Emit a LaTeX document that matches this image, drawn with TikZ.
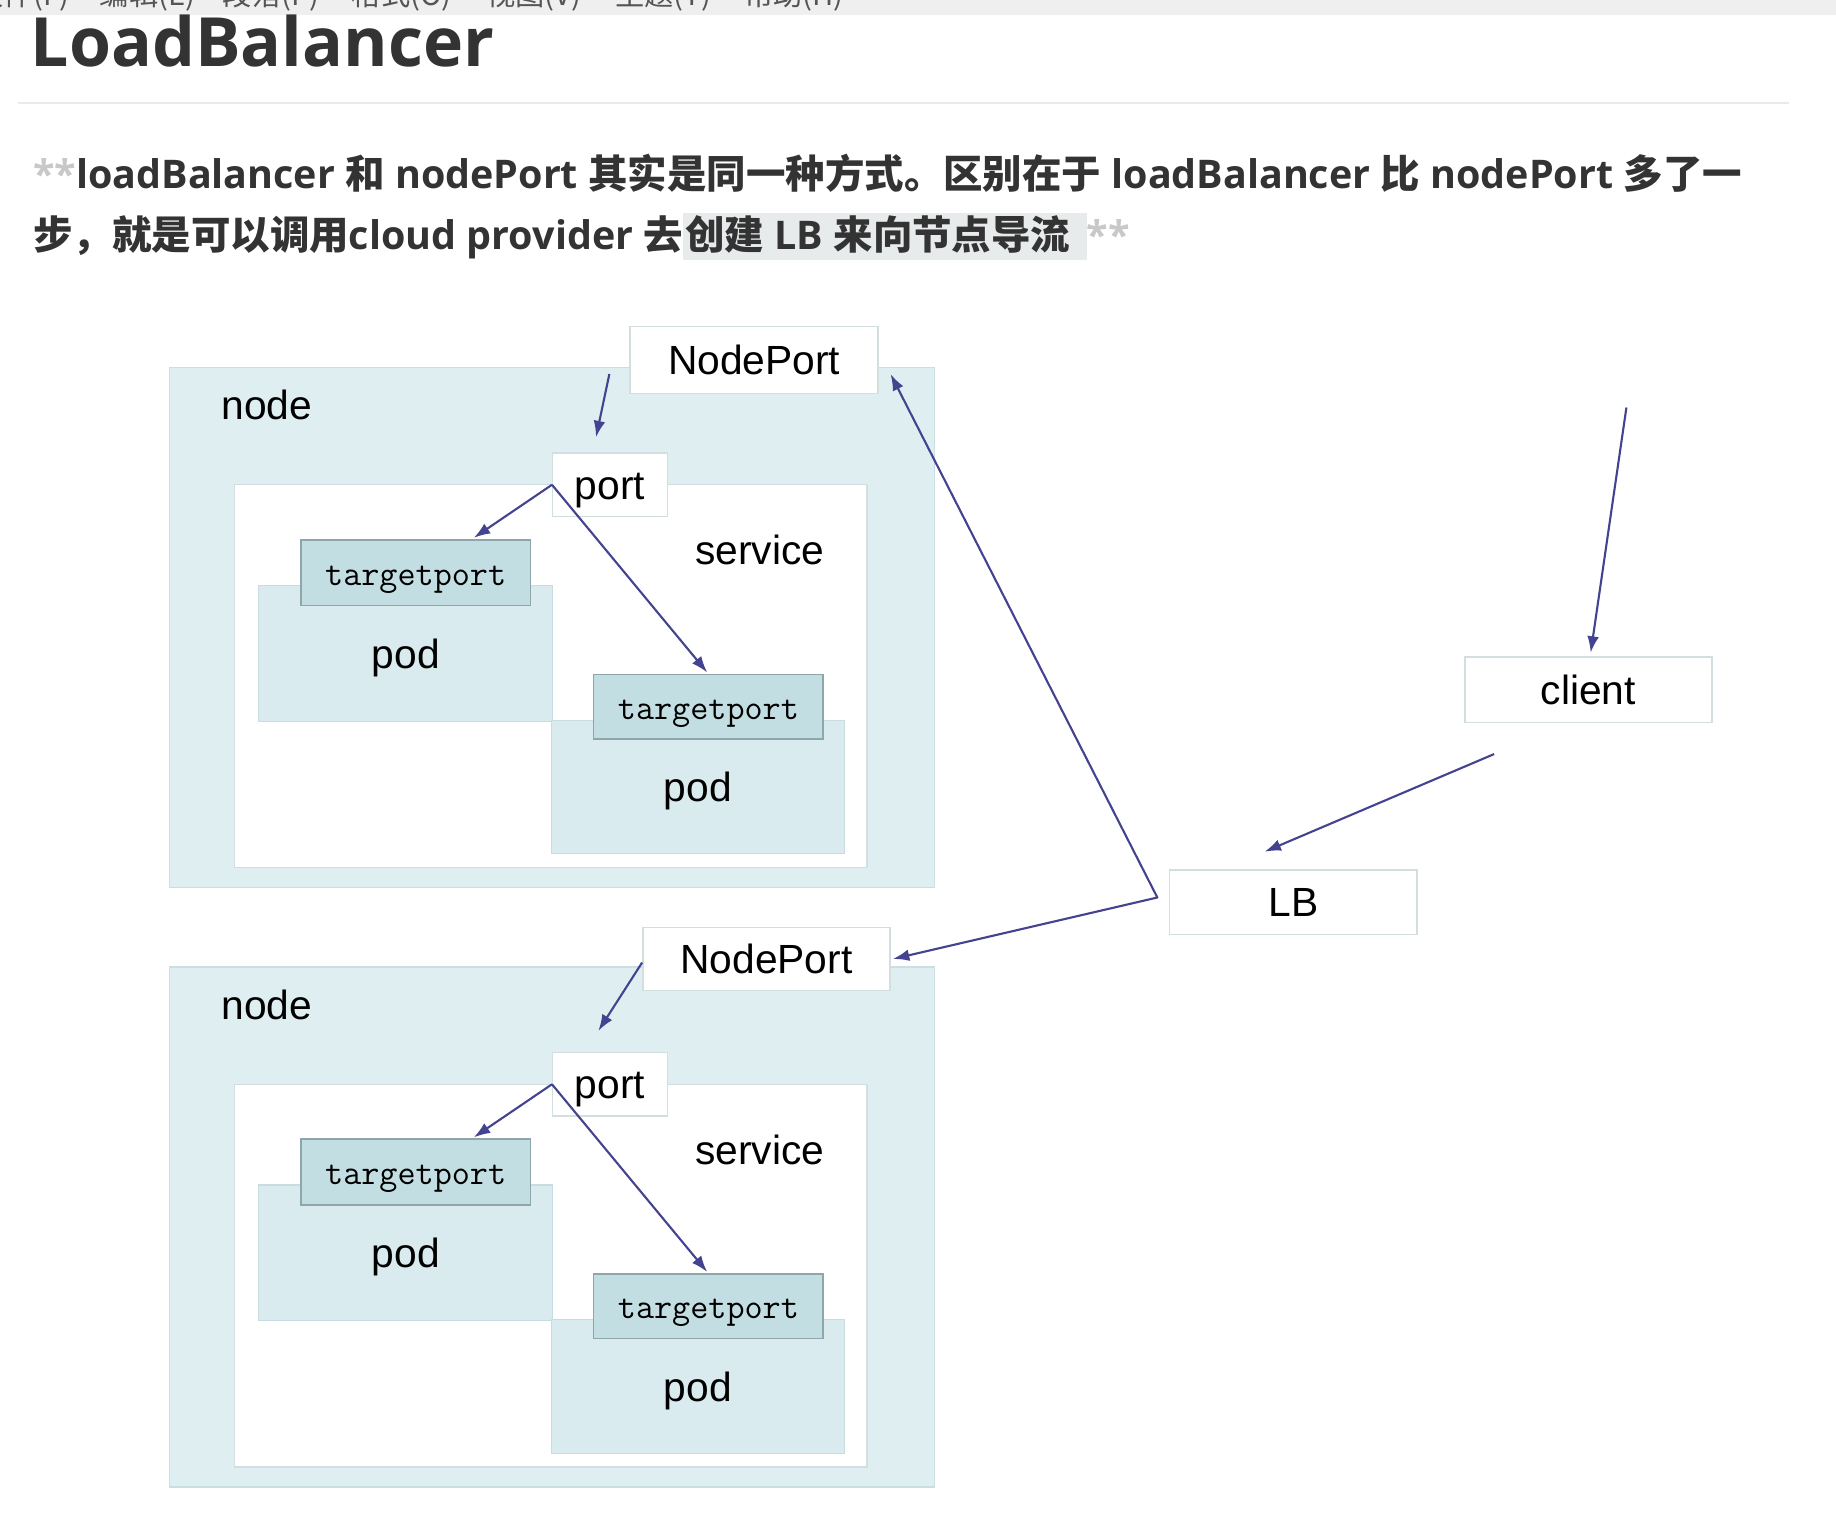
\documentclass[tikz,border=0pt]{standalone}
\usepackage{fontspec}
\setmainfont{Liberation Sans}
\newfontfamily\cjkfont{Noto Sans CJK SC}
\newfontfamily\osfont{Open Sans}
\usetikzlibrary{arrows.meta,calc}

\definecolor{nodefill}{HTML}{DEEEF1}
\definecolor{nodeline}{HTML}{CADFE3}
\definecolor{podfill}{HTML}{D9EBEE}
\definecolor{podline}{HTML}{C9DDE1}
\definecolor{tpfill}{HTML}{C3DEE2}
\definecolor{tpline}{HTML}{8CA6A9}
\definecolor{boxline}{HTML}{D3DEE0}
\definecolor{arrowc}{HTML}{43438F}
\definecolor{titlec}{HTML}{333333}
\definecolor{paratext}{HTML}{333333}
\definecolor{stars}{HTML}{C8C8C8}
\definecolor{hl}{HTML}{E8EBEC}
\definecolor{rulec}{HTML}{EAEAEA}
\definecolor{menubg}{HTML}{EFEFEF}
\definecolor{menutext}{HTML}{555555}

\newcommand{\zh}[1]{{\cjkfont\bfseries #1}}
\newcommand{\hlbox}[1]{{\setlength{\fboxsep}{0pt}\colorbox{hl}{\rule[-4.5pt]{0pt}{20pt}\hspace{1pt}#1\hspace{7pt}}}}

\tikzset{
  lblfont/.style={font=\fontsize{17.4}{20}\selectfont},
  whitebox/.style={draw=boxline, fill=white, line width=0.6pt, inner sep=0pt, lblfont},
  nodebox/.style={draw=nodeline, fill=nodefill, line width=0.6pt, inner sep=0pt},
  podbox/.style={draw=podline, fill=podfill, line width=0.5pt, inner sep=0pt, lblfont,
                 text height=16.5pt, text depth=3.65pt},
  tpbox/.style={draw=tpline, fill=tpfill, line width=0.7pt, inner sep=0pt,
                font=\ttfamily\fontsize{15}{17}\selectfont, text height=13.9pt, text depth=3.2pt},
  portbox/.style={whitebox, text height=16pt, text depth=3.65pt},
  lbl/.style={inner sep=0pt, lblfont},
  conn/.style={draw=arrowc, line width=0.9pt, line join=round},
  tip/.style={-{Latex[length=7pt,width=5pt]}},
  para/.style={anchor=base west, inner sep=0pt, text=paratext,
               font=\osfont\bfseries\fontsize{16.85}{20}\selectfont},
  menu/.style={anchor=base west, inner sep=0pt, text=menutext,
               font=\cjkfont\fontsize{12.5}{14}\selectfont}
}

% one "node" group: #1 = name suffix, #2 = vertical offset
\newcommand{\nodegrp}[2]{%
  \node[nodebox, minimum width=326.5pt, minimum height=222pt] (node#1) at (471.5,{536+#2}) {};
  \node[lbl] (nodelbl#1) at (228,{346+#2}) {node};
  \node[whitebox, minimum width=270pt, minimum height=163.5pt] (svc#1) at (470.5,{577.5+#2}) {};
  \node[lbl] (svclbl#1) at (649,{470+#2}) {service};
  \node[podbox, minimum width=125.5pt, minimum height=58pt] (poda#1) at (346.5,{558+#2}) {pod};
  \node[tpbox, minimum width=98pt, minimum height=28pt] (tpa#1) at (355,{489+#2}) {targetport};
  \node[podbox, minimum width=125pt, minimum height=57pt] (podb#1) at (596,{672+#2}) {pod};
  \node[tpbox, minimum width=98pt, minimum height=27.5pt] (tpb#1) at (605,{603.5+#2}) {targetport};
  \node[portbox, minimum width=49pt, minimum height=27pt] (port#1) at (521,{414+#2}) {port};
  \draw[conn, tip] (port#1.west) -- ([xshift=-24.5pt,yshift=0.5pt]tpa#1.north east);
  \draw[conn, tip] (port#1.west) -- ([xshift=-0.5pt,yshift=0.5pt]tpb#1.north);
}

\begin{document}
\begin{tikzpicture}[x=0.5pt, y=-0.5pt]
  \useasboundingbox (0,0) rectangle (1568,1310);
  \fill[white] (0,0) rectangle (1568,1310);

  % menu strip (cut off at the top, as in the screenshot)
  \fill[menubg] (0,0) rectangle (1568,13);
  \node[menu] (m1) at (-22,5) {文件(F)};
  \node[menu] (m2) at (85,5) {编辑(E)};
  \node[menu] (m3) at (190,5) {段落(P)};
  \node[menu] (m4) at (300,5) {格式(O)};
  \node[menu] (m5) at (415,5) {视图(V)};
  \node[menu] (m6) at (525,5) {主题(T)};
  \node[menu] (m7) at (635,5) {帮助(H)};

  % title and rule
  \node[anchor=base west, inner sep=0pt, text=titlec,
        font=\osfont\bfseries\fontsize{29}{34}\selectfont] (title) at (26,57) {LoadBalancer};
  \draw[rulec, line width=1pt] (15,88) -- (1528,88);

  % paragraph
  \node[para] (line1) at (28,161) {\textcolor{stars}{**}loadBalancer \zh{和} nodePort \zh{其实是同一种方式。区别在于} loadBalancer \zh{比} nodePort \zh{多了一}};
  \node[para] (line2) at (28,213) {\zh{步，就是可以调用}cloud provider \zh{去}\hlbox{\zh{创建} LB \zh{来向节点导流}}\textcolor{stars}{**}};

  % the two node groups
  \nodegrp{1}{0}
  \nodegrp{2}{512}

  % NodePort boxes
  \node[whitebox, minimum width=106pt, minimum height=28.5pt] (np1) at (644,307.5) {NodePort};
  \node[whitebox, minimum width=105.5pt, minimum height=27pt] (np2) at (654.5,819) {NodePort};
  \draw[conn, tip] ([xshift=-8.5pt,yshift=-6pt]np1.west) -- ([xshift=-6pt,yshift=6.5pt]port1.north);
  \draw[conn, tip] ([yshift=-1.5pt]np2.west) -- ([xshift=-5pt,yshift=9pt]port2.north);

  % client and LB
  \node[whitebox, minimum width=105.5pt, minimum height=28pt] (client) at (1356.5,589) {client};
  \node[whitebox, minimum width=105.5pt, minimum height=27.5pt] (lb) at (1104.5,770.5) {LB};
  \coordinate (cin) at (1389,348);
  \coordinate (cout) at (1276,644);
  \coordinate (junc) at ([xshift=-5pt,yshift=2pt]lb.west);
  \draw[conn, tip] (cin) -- ([xshift=1pt,yshift=1.5pt]client.north);
  \draw[conn, tip] (cout) -- ([xshift=-12.25pt,yshift=7.5pt]lb.north);
  \draw[conn, {Latex[length=7pt,width=5pt]}-{Latex[length=7pt,width=5pt]}]
        ([xshift=5pt,yshift=-6pt]np1.east) -- (junc) -- ([xshift=1pt]np2.east);
\end{tikzpicture}
\end{document}
